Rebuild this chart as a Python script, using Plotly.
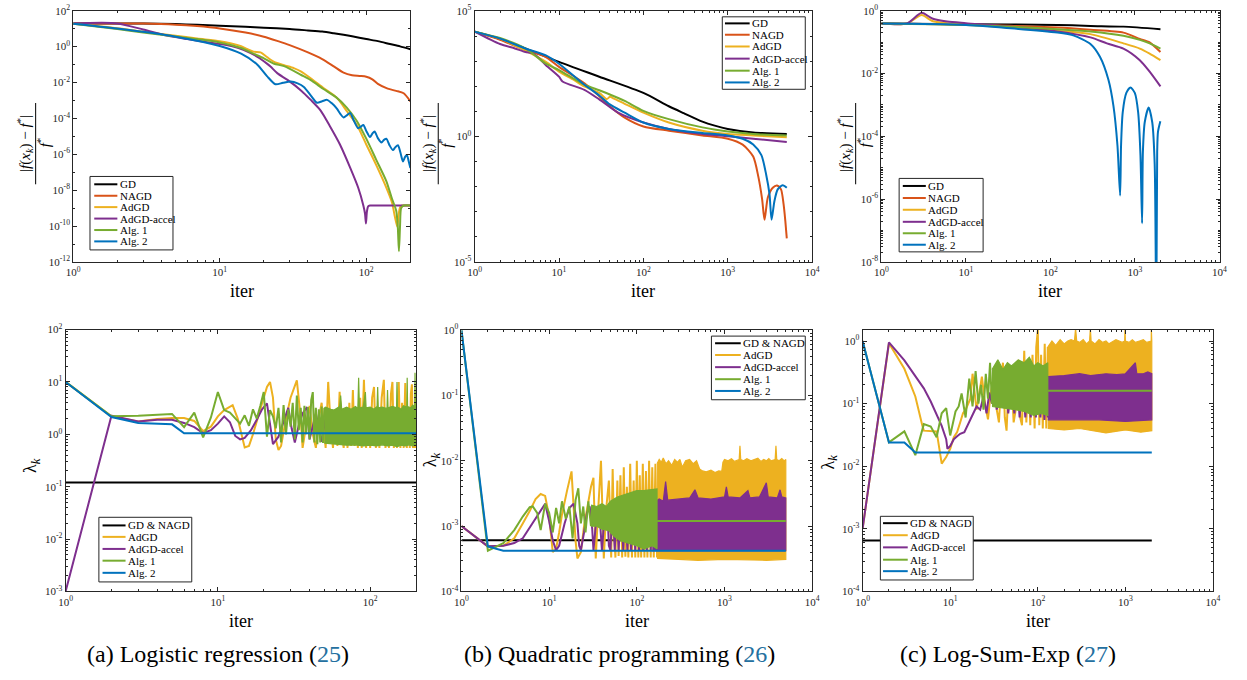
import math
import plotly.graph_objects as go

W, H = 1247, 680

# ---------------- names, colours, texts ----------------
TOP_NAMES = ["GD", "NAGD", "AdGD", "AdGD-accel", "Alg. 1", "Alg. 2"]
BOT_NAMES = ["GD & NAGD", "AdGD", "AdGD-accel", "Alg. 1", "Alg. 2"]
COLORS = {"GD": "#000000", "GD & NAGD": "#000000", "NAGD": "#D95319", "AdGD": "#EDB120",
          "AdGD-accel": "#7E2F8E", "Alg. 1": "#77AC30", "Alg. 2": "#0072BD"}
CAPTIONS = ["(a) Logistic regression", "(b) Quadratic programming", "(c) Log-Sum-Exp"]
CAPTION_REFS = ["25", "26", "27"]
X_TITLE = "iter"

# ================= (a) Logistic regression : relative error =================
a_top_gd_x = [1, 2, 3, 5, 7, 10, 15, 20, 30, 40, 50, 60, 70, 80, 100, 120, 145, 170, 200]
a_top_gd_y = [19.5, 19.5, 19.0, 17.8, 16.2, 14.5, 12.6, 11.2, 9.5, 7.9, 6.8, 5.5, 4.5, 3.7, 2.6, 2.0, 1.38, 1.02, 0.71]
a_top_nagd_x = [1, 2, 3, 5, 7, 10, 15, 20, 25, 30, 40, 50, 60, 70, 80, 90, 100, 110, 120, 140, 160, 180, 200]
a_top_nagd_y = [19.5, 19.5, 19.0, 16.6, 13.8, 10.2, 6.0, 3.55, 2.0, 1.2, 0.47, 0.2, 0.079, 0.035, 0.025, 0.023,
                0.021, 0.015, 0.0083, 0.0045, 0.0034, 0.0025, 0.00089]
a_top_adgd_x = [1, 2, 3, 5, 7, 10, 12, 14, 15.5, 17, 19, 21, 23.5, 27.5, 32, 36, 42, 51, 63, 74, 86, 100, 117,
                137, 150, 156, 160, 163, 166, 170, 175, 180, 200]
a_top_adgd_y = [18.6, 10.5, 6.8, 4.0, 2.8, 2.0, 1.5, 1.05, 0.71, 0.52, 0.47, 0.26, 0.14, 0.091, 0.063, 0.04, 0.0166,
                0.0049, 0.00138, 2.4e-4, 4.5e-5, 3.5e-6, 2.5e-7, 1.4e-8, 2.0e-9, 4.0e-10, 1.6e-10, 9e-11, 4.0e-10,
                1.1e-9, 1.4e-9, 1.4e-9, 1.4e-9]
a_top_acc_x = [1, 2, 3, 4.25, 6, 8, 10, 12, 14.5, 18.2, 21, 22.3, 24.8, 29, 36, 41.6, 48.7, 57, 66, 77.6, 88, 95.5,
               98, 99.5, 101, 103, 106, 120, 200]
a_top_acc_y = [19.5, 19.5, 8.9, 4.2, 2.6, 1.8, 1.38, 1.07, 0.66, 0.26, 0.112, 0.074, 0.032, 0.0138, 0.0035, 1.1e-3,
               2.8e-4, 3.2e-5, 3.6e-6, 1.8e-7, 1.4e-8, 1.4e-9, 5e-10, 1.4e-10, 6.3e-10, 1.26e-9, 1.4e-9, 1.4e-9, 1.4e-9]
a_top_alg1_x = [1, 2, 3, 5, 7, 10, 14, 17, 20, 23.5, 27.5, 36, 41.6, 51, 63, 73.6, 86, 100, 117, 137, 150, 160, 164,
                167, 170, 173, 180, 200]
a_top_alg1_y = [18.6, 9.5, 6.0, 3.6, 2.6, 1.7, 0.83, 0.4, 0.22, 0.11, 0.081, 0.026, 0.0138, 0.0043, 0.00138, 4.0e-4,
                7.4e-5, 7.4e-6, 4.9e-7, 3.2e-8, 3.2e-9, 7.4e-10, 1e-10, 4e-12, 1e-10, 1e-9, 1.4e-9, 1.4e-9]
a_top_alg2_x = [1, 2, 5, 10, 14, 18, 21, 24, 27, 30.5, 34, 37.5, 42, 46, 50, 54, 58, 63, 66.5, 70, 74, 77.6, 82, 88,
                92, 95.5, 100, 106, 110, 114, 120, 127, 132, 137, 144, 152, 158, 164.5, 171, 178, 184, 189, 195, 200]
a_top_alg2_y = [18.6, 10, 3.55, 1.07, 0.4, 0.1, 0.0224, 0.0079, 0.0095, 0.0112, 0.0089, 0.0056, 0.00178, 7.4e-4,
                8.9e-4, 1.07e-3, 7.1e-4, 3.5e-4, 1.78e-4, 1.12e-4, 1.51e-4, 2.0e-4, 7.9e-5, 2.8e-5, 3.5e-5, 4.3e-5,
                2.0e-5, 9.1e-6, 1.41e-5, 1.86e-5, 7.9e-6, 4.5e-6, 6.3e-6, 7.4e-6, 3.2e-6, 1.7e-6, 2.5e-6, 3.2e-6,
                1.26e-6, 4.0e-7, 7.1e-7, 9.1e-7, 4.0e-7, 1.7e-7]

# ================= (b) Quadratic programming : relative error =================
b_top_gd_x = [1, 2, 4, 10, 30, 100, 200, 300, 500, 700, 1000, 2000, 5000]
b_top_gd_y = [1.5e4, 7.6e3, 3.2e3, 930, 240, 54, 16, 8.5, 3.9, 2.7, 2.0, 1.45, 1.26]
b_top_nagd_x = [1, 2, 4, 7, 10, 20, 30, 40, 60, 100, 200, 500, 1000, 1500, 2000, 2300, 2550, 2725, 2980, 3410, 3830,
                4270, 4580, 4800, 5000]
b_top_nagd_y = [1.5e4, 7.1e3, 2.8e3, 1.45e3, 590, 132, 40, 16, 5.6, 2.5, 1.7, 1.1, 0.81, 0.47, 0.158, 0.025, 0.0032,
                4.8e-4, 3.7e-3, 9.1e-3, 0.0112, 7.8e-3, 2.0e-3, 4.4e-4, 8.7e-5]
b_top_adgd_x = [1, 2, 4, 7, 10, 15, 20, 30, 37, 40, 45, 60, 100, 200, 500, 1000, 2000, 5000]
b_top_adgd_y = [1.5e4, 7.9e3, 2.6e3, 930, 380, 178, 98, 54, 31, 38, 32, 20, 8.9, 3.6, 1.7, 1.26, 1.1, 0.93]
b_top_acc_x = [1, 2, 3, 4, 5, 7, 10, 11, 20, 30, 50, 100, 200, 500, 1000, 2000, 5000]
b_top_acc_y = [1.5e4, 4.8e3, 3.2e3, 2.3e3, 2.0e3, 690, 240, 155, 72, 30, 8.9, 3.6, 2.0, 1.26, 1.02, 0.81, 0.6]
b_top_alg1_x = [1, 2, 4, 7, 10, 20, 30, 40, 60, 100, 200, 500, 1000, 2000, 5000]
b_top_alg1_y = [1.5e4, 8.3e3, 3.2e3, 790, 440, 115, 69, 47, 26, 10.5, 4.9, 2.3, 1.58, 1.26, 1.1]
b_top_alg2_x = [1, 2, 4, 7, 10, 20, 30, 40, 60, 100, 200, 500, 1000, 1500, 2000, 2500, 2850, 3120, 3300, 3570, 3900,
                4470, 5000]
b_top_alg2_y = [1.5e4, 7.9e3, 3.2e3, 1.7e3, 790, 115, 43, 19, 8.9, 3.6, 2.0, 1.38, 1.1, 0.81, 0.48, 0.18, 0.03,
                0.005, 4.8e-4, 2.7e-3, 7.8e-3, 0.0115, 9.1e-3]

# ================= (c) Log-Sum-Exp : relative error =================
c_top_gd_x = [1, 10, 121, 297, 730, 2000]
c_top_gd_y = [0.39, 0.37, 0.35, 0.326, 0.31, 0.257]
c_top_nagd_x = [1, 10, 121, 297, 730, 1140, 1490, 2000]
c_top_nagd_y = [0.39, 0.36, 0.289, 0.245, 0.2, 0.126, 0.098, 0.048]
c_top_adgd_x = [1, 2, 3, 4, 6, 10, 121, 297, 730, 1140, 1490, 2000]
c_top_adgd_y = [0.39, 0.39, 0.72, 0.47, 0.4, 0.36, 0.228, 0.179, 0.091, 0.062, 0.043, 0.0265]
c_top_acc_x = [1, 2, 3, 4, 6, 10, 30, 121, 297, 465, 730, 1140, 1490, 2000]
c_top_acc_y = [0.39, 0.39, 0.85, 0.56, 0.45, 0.4, 0.32, 0.217, 0.141, 0.091, 0.062, 0.0265, 0.0115, 0.0039]
c_top_alg1_x = [1, 10, 121, 297, 730, 1140, 1490, 2000]
c_top_alg1_y = [0.39, 0.35, 0.257, 0.217, 0.158, 0.117, 0.091, 0.062]
c_top_alg2_x = [1, 10, 121, 190, 297, 385, 485, 556, 620, 667, 684, 716, 790, 884, 995, 1090, 1160, 1213, 1240, 1304,
                1452, 1600, 1710, 1786, 1830, 1870, 1995]
c_top_alg2_y = [0.39, 0.35, 0.2, 0.16, 0.087, 0.034, 0.0063, 9.3e-4, 5.2e-5, 1.3e-6, 5e-5, 5.8e-4, 2.4e-3, 3.6e-3,
                2.4e-3, 5.8e-4, 2.6e-5, 1.7e-7, 3.2e-5, 2.8e-4, 8.3e-4, 2.8e-4, 1.26e-5, 1e-10, 3.2e-5, 1.38e-4, 3.0e-4]

# ================= (a) step sizes lambda_k =================
a_bot_gd_x = [1, 200]
a_bot_gd_y = [0.12, 0.12]
a_bot_adgd_x = [1, 2, 3, 4, 5, 6, 7, 8, 9, 10, 11, 12.5, 13.5, 15, 16, 17, 19, 21, 22, 23, 24, 25, 26, 28, 30, 33, 35,
                36, 38, 40, 42, 44, 46, 48, 50, 51, 53, 55, 57, 59, 61, 63, 65, 67, 69, 71, 73, 75, 77, 79, 81, 83,
                86, 88, 91, 94, 97, 100, 103, 106, 109, 112, 115, 119, 123, 126, 130, 133, 137, 140, 143, 147, 150,
                154, 158, 162, 166, 170, 174, 178, 182, 185, 188, 191, 194, 197, 200]
a_bot_adgd_y = [10, 2.2, 1.75, 1.95, 2.05, 2.05, 1.8, 1.15, 1.4, 2.2, 2.9, 3.6, 2.0, 0.56, 0.6, 1.0, 3.0, 8.0, 10,
                5.0, 0.8, 0.5, 0.6, 2.0, 5.0, 10.7, 2.0, 0.55, 1.5, 3.5, 1.0, 0.55, 2.0, 4.0, 1.0, 0.55, 10, 1.5,
                0.55, 3.0, 0.6, 6.5, 1.0, 0.55, 3.0, 0.55, 4.0, 0.6, 7.0, 0.6, 3.0, 0.55, 5.0, 0.55, 11, 0.55, 3.0,
                0.55, 5.0, 8.0, 0.55, 3.0, 0.55, 5.0, 11, 0.55, 3.0, 0.55, 6.0, 10, 0.55, 3.0, 0.55, 10, 0.55, 4.0,
                0.55, 9.5, 0.55, 3.0, 0.55, 6.0, 9.0, 0.55, 3.0, 0.55, 6.5]
a_bot_acc_x = [1, 2, 3, 4, 5, 6, 7, 8, 9, 10, 11, 12, 13, 14, 15, 16.5, 18, 19.5, 21, 22, 23, 25, 27, 29, 30.5, 32,
               34, 36, 38.5, 40, 44, 48, 52, 56, 61, 66, 71, 76, 82, 88, 94, 100, 107, 114, 121, 128, 136, 144, 152,
               160, 169, 178, 188, 197, 200]
a_bot_acc_y = [0.001, 2.26, 1.75, 1.9, 1.9, 1.65, 1.37, 1.05, 1.2, 1.6, 2.2, 1.7, 0.93, 0.8, 0.85, 1.2, 1.9, 3.0, 3.9,
               1.5, 0.65, 0.9, 1.8, 3.2, 1.3, 0.7, 1.5, 2.5, 3.3, 0.8, 2.5, 0.72, 3.0, 0.7, 2.8, 0.7, 3.0, 0.72, 2.8,
               0.7, 3.0, 0.7, 2.9, 0.7, 3.0, 0.7, 2.8, 0.7, 3.0, 0.7, 2.9, 0.7, 3.0, 0.72, 1.5]
a_bot_alg1_x = [1, 2, 3, 4, 5, 6, 7, 8, 9, 10, 11, 12, 13, 14, 15, 16, 17, 18, 19, 20, 21, 22, 23, 24, 25, 26, 27, 28,
                29, 30, 31, 32, 33, 34, 35, 36, 37, 38, 39, 40, 41, 42, 43, 44, 45, 46, 47, 48, 49, 50]
a_bot_alg1_y = [10, 2.2, 2.25, 2.35, 2.45, 1.37, 2.6, 0.87, 2.1, 6.4, 2.9, 2.6, 2.0, 1.6, 2.3, 1.45, 3.0, 2.0, 3.5,
                6.4, 0.9, 2.9, 2.2, 1.3, 3.2, 0.7, 3.6, 1.0, 3.0, 1.4, 4.0, 0.8, 5.5, 1.2, 3.2, 0.7, 3.5, 1.0, 3.3,
                0.8, 4.5, 6.4, 0.7, 3.2, 0.65, 3.0, 0.7, 3.4, 0.68, 3.2]
# dense part of Alg. 1 (x >= 50): upper and lower envelope
a_bot_alg1_up_x = [50, 51, 55, 58, 63, 64, 65, 70, 75, 80, 83, 84, 85, 90, 93, 94, 100, 106, 111, 112, 113, 120, 129,
                   130, 131, 140, 149, 150, 151, 160, 165, 174, 175, 176, 185, 190, 196, 197, 198, 200]
a_bot_alg1_up_y = [3.2, 3.3, 3.0, 2.9, 3.4, 5.5, 3.0, 3.3, 3.0, 3.4, 3.1, 12, 3.2, 3.3, 6.4, 3.2, 3.3, 3.0, 3.4, 8.0,
                   3.2, 3.3, 3.1, 7.0, 3.2, 3.4, 3.2, 10, 3.3, 3.0, 3.5, 3.3, 12, 3.4, 3.2, 3.6, 3.4, 15, 3.4, 3.3]
a_bot_alg1_lo_x = [200, 190, 180, 170, 160, 150, 140, 130, 120, 110, 100, 90, 80, 70, 60, 55, 50]
a_bot_alg1_lo_y = [0.62, 0.6, 0.63, 0.6, 0.62, 0.58, 0.62, 0.6, 0.63, 0.6, 0.62, 0.6, 0.63, 0.62, 0.65, 0.68, 0.68]
a_bot_alg2_x = [1, 2, 3, 4, 5, 6, 200]
a_bot_alg2_y = [10, 2.14, 1.65, 1.6, 1.55, 1.05, 1.05]

# ================= (b) step sizes lambda_k =================
b_bot_gd_x = [1, 5000]
b_bot_gd_y = [6.1e-4, 6.1e-4]
b_bot_adgd_x = [1, 2, 3, 4, 5, 6, 7, 8, 9, 10, 11, 12, 13, 14, 16, 18, 19, 20, 21, 23, 25, 28, 30, 32, 33, 34, 36, 39,
                41, 42, 45, 48, 50, 51, 53, 55, 57, 60, 62, 65, 68, 71, 74, 77, 80, 84, 88, 92, 96, 100, 104, 108,
                112, 117, 122, 127, 132, 138, 144, 150, 156, 163, 170]
b_bot_adgd_y = [1e-3, 4.9e-4, 5e-4, 6.5e-4, 1.1e-3, 1.7e-3, 2.6e-3, 3.1e-3, 2.9e-3, 1.4e-3, 4e-4, 4.5e-4, 8e-4,
                1.5e-3, 3.5e-3, 6.9e-3, 2e-3, 6e-4, 3.2e-4, 4e-4, 1e-3, 2.5e-3, 4e-3, 5.5e-3, 1e-3, 3.2e-4, 1.5e-3,
                1e-2, 1e-3, 3.2e-4, 2e-3, 5e-3, 1e-3, 3.3e-4, 7.5e-3, 8e-4, 3.3e-4, 5e-3, 3.5e-4, 6e-3, 3.3e-4,
                8e-3, 3.4e-4, 4e-3, 3.3e-4, 9e-3, 3.3e-4, 5e-3, 3.3e-4, 1e-2, 3.3e-4, 6e-3, 3.3e-4, 9e-3, 3.3e-4,
                7e-3, 3.3e-4, 1e-2, 3.3e-4, 8e-3, 3.3e-4, 9e-3, 3.3e-4]
b_bot_adgd_up_x = [170, 180, 190, 200, 215, 230, 250, 270, 290, 310, 330, 360, 400, 440, 480, 520, 560, 620, 700, 780,
                   860, 930, 960, 1000, 1100, 1200, 1300, 1470, 1500, 1530, 1650, 1800, 2000, 2200, 2400, 2600, 2800,
                   3000, 3200, 3400, 3780, 3860, 3940, 4200, 4500, 4800, 5000]
b_bot_adgd_up_y = [9e-3, 1.05e-2, 9.5e-3, 1.1e-2, 9e-3, 1.0e-2, 8.5e-3, 1.05e-2, 9.5e-3, 1.05e-2, 8e-3, 1.0e-2,
                   1.05e-2, 9e-3, 1.0e-2, 7.5e-3, 7e-3, 6.8e-3, 7.2e-3, 6.6e-3, 7e-3, 6.9e-3, 9.5e-3, 1.05e-2, 1.0e-2,
                   1.08e-2, 9.8e-3, 1.05e-2, 1.7e-2, 1.05e-2, 1.0e-2, 1.08e-2, 1e-2, 1.05e-2, 1.1e-2, 9.8e-3,
                   1.05e-2, 1e-2, 1.08e-2, 1.0e-2, 1.05e-2, 1.7e-2, 1.05e-2, 1.0e-2, 1.08e-2, 1.0e-2, 1.05e-2]
b_bot_adgd_lo_x = [5000, 3000, 1000, 500, 300, 170]
b_bot_adgd_lo_y = [3.1e-4, 3.0e-4, 3.1e-4, 3.0e-4, 3.1e-4, 3.2e-4]
b_bot_acc_x = [1, 2, 3, 4, 5, 6, 7, 8, 9, 10, 11, 12, 13, 15, 17, 19, 21, 22, 23, 25, 27, 29, 31, 32, 34, 37, 39, 40,
               43, 46, 48, 50, 53, 56, 59, 62, 66, 70, 74, 78, 82, 86, 91, 96, 101, 106, 112, 118, 124, 130, 137,
               144, 150]
b_bot_acc_y = [1e-3, 4.9e-4, 5e-4, 5.5e-4, 6.5e-4, 9.5e-4, 1.3e-3, 1.75e-3, 2.2e-3, 1.2e-3, 6e-4, 4.3e-4, 5e-4,
               1.1e-3, 1.9e-3, 2.2e-3, 1.1e-3, 5e-4, 4.3e-4, 8e-4, 1.6e-3, 2e-3, 9e-4, 4.3e-4, 1e-3, 2e-3, 8e-4,
               4.3e-4, 1.5e-3, 2e-3, 5e-4, 4.3e-4, 2e-3, 4.3e-4, 2e-3, 4.3e-4, 2.1e-3, 4.3e-4, 2e-3, 4.3e-4, 2.2e-3,
               4.3e-4, 2e-3, 4.3e-4, 2.3e-3, 4.3e-4, 2.2e-3, 4.3e-4, 2.4e-3, 4.3e-4, 2.5e-3, 4.3e-4, 2.2e-3]
b_bot_acc_up_x = [150, 180, 200, 213, 225, 300, 400, 460, 500, 700, 1000, 1050, 1100, 1500, 1850, 1950, 2500, 3000,
                  3150, 4000, 4300, 4500, 5000]
b_bot_acc_up_y = [2.2e-3, 2.6e-3, 2.4e-3, 4.8e-3, 2.5e-3, 2.6e-3, 2.7e-3, 3.6e-3, 2.7e-3, 2.6e-3, 2.8e-3, 4e-3,
                  2.8e-3, 2.7e-3, 3.5e-3, 2.7e-3, 2.8e-3, 4.6e-3, 2.8e-3, 2.7e-3, 3.6e-3, 2.8e-3, 2.7e-3]
b_bot_acc_lo_x = [5000, 150]
b_bot_acc_lo_y = [4.2e-4, 4.2e-4]
b_bot_alg1_x = [1, 2, 3, 4, 5, 6, 6.5, 7.3, 8, 9, 10, 11, 12, 13, 14, 15.5, 17, 18.5, 20, 21.5, 23, 24.5, 26, 28, 30]
b_bot_alg1_y = [1.0, 4.2e-4, 5.5e-4, 8.7e-4, 1.4e-3, 1.95e-3, 2.0e-3, 1.6e-3, 8.7e-4, 2.2e-3, 1.6e-3, 8e-4, 1.9e-3,
                1.1e-3, 2.4e-3, 1.3e-3, 2e-3, 6.5e-4, 2.5e-3, 3.8e-3, 1.1e-3, 2e-3, 8e-4, 2.4e-3, 1.0e-3]
b_bot_alg1_up_x = [30, 35, 40, 45, 50, 60, 70, 85, 100, 120, 140, 170]
b_bot_alg1_up_y = [2.1e-3, 2.0e-3, 2.2e-3, 2.0e-3, 2.4e-3, 2.8e-3, 3.0e-3, 3.3e-3, 3.5e-3, 3.5e-3, 3.6e-3, 3.7e-3]
b_bot_alg1_lo_x = [170, 150, 120, 100, 80, 65, 55, 48, 40, 35, 30]
b_bot_alg1_lo_y = [4.5e-4, 5e-4, 4.5e-4, 5e-4, 5.5e-4, 6e-4, 7e-4, 8.5e-4, 9e-4, 1e-3, 1.0e-3]
b_bot_alg1_tail_x = [170, 5000]
b_bot_alg1_tail_y = [1.2e-3, 1.2e-3]
b_bot_alg2_x = [1, 2, 3, 5000]
b_bot_alg2_y = [1.0, 4.9e-4, 4.2e-4, 4.2e-4]

# ================= (c) step sizes lambda_k =================
c_bot_gd_x = [1, 2000]
c_bot_gd_y = [6.5e-4, 6.5e-4]
c_bot_adgd_x = [1, 2, 3, 4, 4.8, 5, 7, 8, 9, 10, 11, 12, 13, 14, 15, 16, 17, 18, 19, 20, 21, 23, 25, 27, 29, 32, 34,
                36, 38, 40, 42, 44, 47, 50, 53, 56, 60, 63, 66, 70, 74, 78, 82, 87, 92, 96, 100, 104, 109, 114, 120,
                125, 130]
c_bot_adgd_y = [1e-3, 0.92, 0.36, 0.13, 0.045, 0.037, 0.036, 0.011, 0.014, 0.019, 0.029, 0.035, 0.05, 0.07, 0.08,
                0.1, 0.12, 0.3, 0.15, 0.08, 0.12, 0.27, 0.1, 0.056, 0.15, 0.3, 0.08, 0.05, 0.2, 0.45, 0.06, 0.037,
                0.3, 0.27, 0.05, 0.08, 0.5, 0.06, 0.045, 0.7, 0.05, 0.4, 0.045, 0.6, 0.04, 0.8, 1.5, 0.045, 0.6,
                0.04, 0.9, 0.04, 0.8]
c_bot_adgd_up_x = [130, 145, 160, 180, 200, 220, 240, 262, 270, 278, 300, 330, 360, 390, 398, 406, 450, 500, 550, 600,
                   650, 700, 780, 850, 920, 980, 990, 1000, 1100, 1200, 1300, 1450, 1600, 1750, 1900, 1970, 1977, 1985,
                   2000]
c_bot_adgd_up_y = [0.8, 1.0, 0.85, 1.05, 0.9, 1.0, 1.05, 1.0, 1.6, 1.0, 0.95, 1.05, 0.9, 1.0, 1.6, 1.0, 0.9, 1.05,
                   0.95, 1.0, 0.9, 0.95, 1.05, 1.0, 0.95, 1.0, 1.6, 1.0, 0.95, 1.05, 0.95, 1.0, 1.05, 0.95, 1.0, 1.0,
                   1.6, 1.0, 1.0]
c_bot_adgd_lo_x = [2000, 1500, 1000, 600, 300, 200, 130]
c_bot_adgd_lo_y = [0.037, 0.035, 0.038, 0.034, 0.04, 0.038, 0.04]
c_bot_acc_x = [1, 2, 3, 4, 5, 6, 7, 8, 9, 9.3, 10, 11, 12, 13, 14.5, 16.5, 18, 20, 22, 24, 26, 28, 30, 32, 34, 37,
               40, 43, 46, 50, 54, 58, 62, 67, 72, 77, 83, 89, 95, 101, 107, 113, 119, 125, 130]
c_bot_acc_y = [1e-3, 0.95, 0.49, 0.28, 0.175, 0.108, 0.067, 0.044, 0.027, 0.019, 0.021, 0.027, 0.03, 0.033, 0.035,
               0.05, 0.065, 0.09, 0.08, 0.13, 0.07, 0.15, 0.1, 0.2, 0.08, 0.17, 0.1, 0.25, 0.07, 0.2, 0.07, 0.25,
               0.06, 0.28, 0.06, 0.25, 0.06, 0.28, 0.06, 0.3, 0.06, 0.27, 0.055, 0.3, 0.06]
c_bot_acc_up_x = [130, 200, 300, 400, 600, 800, 1000, 1300, 1350, 1600, 1800, 2000]
c_bot_acc_up_y = [0.27, 0.28, 0.3, 0.28, 0.3, 0.29, 0.3, 0.45, 0.3, 0.3, 0.32, 0.3]
c_bot_acc_lo_x = [2000, 1000, 500, 130]
c_bot_acc_lo_y = [0.055, 0.052, 0.055, 0.055]
c_bot_alg1_x = [1, 2, 3, 4, 5, 6, 7, 8, 9, 10, 11.5, 12.5, 13.5, 15, 16.5, 18, 19.5, 21, 22.5, 24, 25.5, 27, 28.5, 30]
c_bot_alg1_y = [1.0, 0.024, 0.036, 0.015, 0.047, 0.043, 0.029, 0.07, 0.085, 0.031, 0.075, 0.09, 0.145, 0.06, 0.25,
                0.09, 0.33, 0.1, 0.2, 0.08, 0.3, 0.12, 0.45, 0.1]
c_bot_alg1_up_x = [30, 35, 40, 45, 50, 60, 70, 80, 90, 100, 115, 130]
c_bot_alg1_up_y = [0.35, 0.5, 0.35, 0.45, 0.4, 0.5, 0.45, 0.55, 0.4, 0.45, 0.4, 0.45]
c_bot_alg1_lo_x = [130, 110, 90, 70, 55, 40, 30]
c_bot_alg1_lo_y = [0.065, 0.07, 0.065, 0.075, 0.08, 0.085, 0.09]
c_bot_alg1_tail_x = [130, 2000]
c_bot_alg1_tail_y = [0.16, 0.16]
c_bot_alg2_x = [1, 2, 3, 4, 2000]
c_bot_alg2_y = [1.0, 0.024, 0.024, 0.0165, 0.0165]

# ---------------------------------------------------------------------------
fig = go.Figure()
SERIF = "Liberation Serif"
AX_COL = "#262626"


def axref(i):
    return ("x", "y") if i == 1 else ("x%d" % i, "y%d" % i)


def add_line(i, x, y, color, shape="linear", width=2.0):
    xa, ya = axref(i)
    kw = dict(color=color, width=width, shape=shape)
    if shape == "spline":
        kw["smoothing"] = 0.7
    fig.add_trace(go.Scatter(x=x, y=y, mode="lines", line=kw, xaxis=xa, yaxis=ya,
                             showlegend=False, hoverinfo="skip"))


def add_band(i, ux, uy, lx, ly, color):
    xa, ya = axref(i)
    fig.add_trace(go.Scatter(x=ux + lx, y=uy + ly, mode="lines", fill="toself", fillcolor=color,
                             line=dict(color=color, width=1.2), xaxis=xa, yaxis=ya,
                             showlegend=False, hoverinfo="skip"))


C = COLORS
# top row
for i, sets in [(1, [(a_top_gd_x, a_top_gd_y, "GD"), (a_top_nagd_x, a_top_nagd_y, "NAGD"),
                     (a_top_adgd_x, a_top_adgd_y, "AdGD"), (a_top_acc_x, a_top_acc_y, "AdGD-accel"),
                     (a_top_alg1_x, a_top_alg1_y, "Alg. 1"), (a_top_alg2_x, a_top_alg2_y, "Alg. 2")]),
                (2, [(b_top_gd_x, b_top_gd_y, "GD"), (b_top_nagd_x, b_top_nagd_y, "NAGD"),
                     (b_top_adgd_x, b_top_adgd_y, "AdGD"), (b_top_acc_x, b_top_acc_y, "AdGD-accel"),
                     (b_top_alg1_x, b_top_alg1_y, "Alg. 1"), (b_top_alg2_x, b_top_alg2_y, "Alg. 2")]),
                (3, [(c_top_gd_x, c_top_gd_y, "GD"), (c_top_nagd_x, c_top_nagd_y, "NAGD"),
                     (c_top_adgd_x, c_top_adgd_y, "AdGD"), (c_top_acc_x, c_top_acc_y, "AdGD-accel"),
                     (c_top_alg1_x, c_top_alg1_y, "Alg. 1"), (c_top_alg2_x, c_top_alg2_y, "Alg. 2")])]:
    for x, y, n in sets:
        add_line(i, x, y, C[n], shape="spline")

# bottom (a)
add_line(4, a_bot_gd_x, a_bot_gd_y, C["GD"])
add_line(4, a_bot_adgd_x, a_bot_adgd_y, C["AdGD"])
add_line(4, a_bot_acc_x, a_bot_acc_y, C["AdGD-accel"])
add_line(4, a_bot_alg1_x, a_bot_alg1_y, C["Alg. 1"])
add_band(4, a_bot_alg1_up_x, a_bot_alg1_up_y, a_bot_alg1_lo_x, a_bot_alg1_lo_y, C["Alg. 1"])
add_line(4, a_bot_alg2_x, a_bot_alg2_y, C["Alg. 2"])
# bottom (b)
add_line(5, b_bot_gd_x, b_bot_gd_y, C["GD"])
add_line(5, b_bot_adgd_x, b_bot_adgd_y, C["AdGD"])
add_band(5, b_bot_adgd_up_x, b_bot_adgd_up_y, b_bot_adgd_lo_x, b_bot_adgd_lo_y, C["AdGD"])
add_line(5, b_bot_acc_x, b_bot_acc_y, C["AdGD-accel"])
add_band(5, b_bot_acc_up_x, b_bot_acc_up_y, b_bot_acc_lo_x, b_bot_acc_lo_y, C["AdGD-accel"])
add_line(5, b_bot_alg1_x, b_bot_alg1_y, C["Alg. 1"])
add_band(5, b_bot_alg1_up_x, b_bot_alg1_up_y, b_bot_alg1_lo_x, b_bot_alg1_lo_y, C["Alg. 1"])
add_line(5, b_bot_alg1_tail_x, b_bot_alg1_tail_y, C["Alg. 1"])
add_line(5, b_bot_alg2_x, b_bot_alg2_y, C["Alg. 2"])
# bottom (c)
add_line(6, c_bot_gd_x, c_bot_gd_y, C["GD"])
add_line(6, c_bot_adgd_x, c_bot_adgd_y, C["AdGD"])
add_band(6, c_bot_adgd_up_x, c_bot_adgd_up_y, c_bot_adgd_lo_x, c_bot_adgd_lo_y, C["AdGD"])
add_line(6, c_bot_acc_x, c_bot_acc_y, C["AdGD-accel"])
add_band(6, c_bot_acc_up_x, c_bot_acc_up_y, c_bot_acc_lo_x, c_bot_acc_lo_y, C["AdGD-accel"])
add_line(6, c_bot_alg1_x, c_bot_alg1_y, C["Alg. 1"])
add_band(6, c_bot_alg1_up_x, c_bot_alg1_up_y, c_bot_alg1_lo_x, c_bot_alg1_lo_y, C["Alg. 1"])
add_line(6, c_bot_alg1_tail_x, c_bot_alg1_tail_y, C["Alg. 1"])
add_line(6, c_bot_alg2_x, c_bot_alg2_y, C["Alg. 2"])


# ---------------- axes ----------------
def fx(p):
    return p / W


def fy(p):
    return 1 - p / H


def pow_ticks(exps):
    return [10.0 ** e for e in exps], ["10<sup>%d</sup>" % e for e in exps]


def minor_vals(e0, e1, digits=True, skip=()):
    v = []
    for e in range(e0, e1 + 1):
        if digits:
            v += [m * 10.0 ** e for m in range(2, 10)]
        if e not in skip:
            v.append(10.0 ** e)
    return v


def make_axis(dom, rng, exps, minor, anchor):
    tv, tt = pow_ticks(exps)
    return dict(type="log", domain=dom, range=rng, tickmode="array", tickvals=tv, ticktext=tt,
                ticks="inside", ticklen=4, tickwidth=0.8, tickcolor=AX_COL, showline=True,
                linecolor=AX_COL, linewidth=1, mirror="ticks", showgrid=False, zeroline=False,
                tickfont=dict(family=SERIF, size=11, color=AX_COL), anchor=anchor,
                minor=dict(tickmode="array", tickvals=minor, ticks="inside", ticklen=2,
                           tickwidth=0.6, tickcolor=AX_COL, showgrid=False))


panels = [
    # (left, right, top, bottom px), x range, y range, x exps, y exps, y minor
    ((67, 408.3, 2.7, 259.3), [0, math.log10(200)], [-12, 2], [0, 1, 2], list(range(-12, 3, 2)),
     minor_vals(-12, 2, digits=False, skip=range(-12, 3, 2))),
    ((473.3, 815, 3, 259.3), [0, 4], [-5, 5], [0, 1, 2, 3, 4], [-5, 0, 5],
     minor_vals(-5, 5, digits=False, skip=(-5, 0, 5))),
    ((885, 1227.3, 2.7, 259.3), [0, 4], [-8, 0], [0, 1, 2, 3, 4], [-8, -6, -4, -2, 0],
     minor_vals(-8, -1, digits=True, skip=(-8, -6, -4, -2))),
    ((59.3, 414, 328.3, 595.7), [0, math.log10(200)], [-3, 2], [0, 1, 2], [-3, -2, -1, 0, 1, 2],
     minor_vals(-3, 1, digits=True, skip=range(-3, 3))),
    ((460, 815, 329, 595.7), [0, 4], [-4, 0], [0, 1, 2, 3, 4], [-4, -3, -2, -1, 0],
     minor_vals(-4, -1, digits=True, skip=range(-4, 1))),
    ((866, 1220.7, 328.3, 595.7), [0, 4], [-4, 0.183], [0, 1, 2, 3, 4], [-4, -3, -2, -1, 0],
     minor_vals(-4, -1, digits=True, skip=range(-4, 1))),
]

layout_axes = {}
for k, (box, xr, yr, xe, ye, ymin) in enumerate(panels, start=1):
    l, r, t, b = box
    xname = "xaxis" if k == 1 else "xaxis%d" % k
    yname = "yaxis" if k == 1 else "yaxis%d" % k
    xa, ya = axref(k)
    xmin = minor_vals(0, 3, digits=True, skip=range(0, 5))
    layout_axes[xname] = make_axis([fx(l), fx(r)], xr, xe, xmin, ya)
    layout_axes[yname] = make_axis([fy(b), fy(t)], yr, ye, ymin, xa)

fig.update_layout(width=W, height=H, margin=dict(l=0, r=0, t=0, b=0), paper_bgcolor="white",
                  plot_bgcolor="white", showlegend=False, font=dict(family=SERIF, color="black"),
                  **layout_axes)

annotations = []
shapes = []


def text(x, y, s, size, angle=0, xanchor="center", color="black"):
    annotations.append(dict(x=fx(x), y=fy(y), xref="paper", yref="paper", text=s, showarrow=False,
                            textangle=angle, xanchor=xanchor, yanchor="middle",
                            font=dict(family=SERIF, size=size, color=color)))


# x titles
for cx, cy in [(237.5, 289), (644, 289), (1056, 289), (236.5, 626), (637.5, 626), (1043.5, 626)]:
    text(cx, cy, X_TITLE, 18)

# y titles (fraction) for top row
NUM = "|<i>f</i>(<i>x</i><sub><i>k</i></sub>) \u2212 <i>f</i><sup>*</sup>|"
DEN = "<i>f</i><sup>*</sup>"
for nx, bx, dx in [(18, 29, 37.5), (426, 436.5, 444), (848, 859, 867.5)]:
    text(nx, 138, NUM, 15, angle=-90)
    text(dx, 138, DEN, 15, angle=-90)
    shapes.append(dict(type="line", xref="paper", yref="paper", x0=fx(bx), x1=fx(bx), y0=fy(97), y1=fy(180),
                       line=dict(color="black", width=1)))
# y titles for bottom row
for lx, ly in [(25, 467), (430, 461), (832, 463)]:
    text(lx, ly, "\u03bb<sub><i>k</i></sub>", 18, angle=-90)

# captions
for cap, ref, cx in zip(CAPTIONS, CAPTION_REFS, [214, 620, 1013]):
    text(cx, 660, cap + " (<span style='color:#2470a0'>" + ref + "</span>)", 24)


# manual MATLAB-like legends
def legend(names, box, lx0, lx1, tx, ys):
    x0, y0, x1, y1 = box
    shapes.append(dict(type="rect", xref="paper", yref="paper", x0=fx(x0), x1=fx(x1), y0=fy(y1), y1=fy(y0),
                       fillcolor="white", line=dict(color=AX_COL, width=1), layer="above"))
    for n, yy in zip(names, ys):
        shapes.append(dict(type="line", xref="paper", yref="paper", x0=fx(lx0), x1=fx(lx1), y0=fy(yy), y1=fy(yy),
                           line=dict(color=COLORS[n], width=2), layer="above"))
        text(tx, yy, n, 11, xanchor="left")


legend(TOP_NAMES, (84, 172, 168, 247), 88.3, 111.7, 112, [180, 191.7, 203.3, 215, 226.7, 238.3])
legend(TOP_NAMES, (724, 9, 808, 83), 726.7, 751.7, 752, [15.7, 27.3, 39.3, 51.7, 64, 76])
legend(TOP_NAMES, (903, 174, 988, 249), 906.7, 930, 930.5, [181.7, 194, 206, 218.3, 230, 241.7])
legend(BOT_NAMES, (93, 520, 187, 586), 96.7, 120, 120.5, [528.3, 540, 552.3, 564.3, 576.7])
legend(BOT_NAMES, (713, 335, 808, 400), 716.7, 742.7, 743, [342.3, 354.3, 366.7, 379, 391])
legend(BOT_NAMES, (884, 519, 978, 584), 886.7, 911.7, 912, [526, 538.3, 550.7, 563.3, 575])

fig.update_layout(annotations=annotations, shapes=shapes)
fig.write_html("out.html")
